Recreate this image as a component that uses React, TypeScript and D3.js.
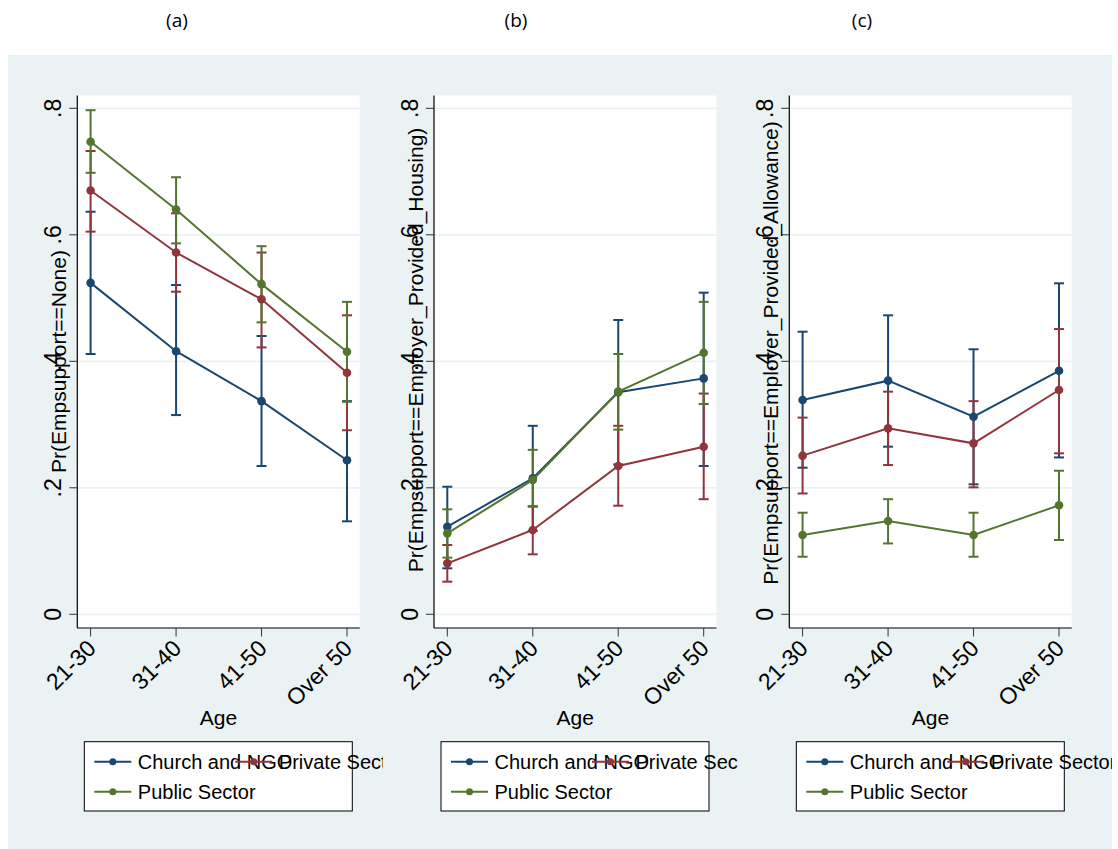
import React from "react";
import * as d3 from "d3";

const ageGroups = ["21-30", "31-40", "41-50", "Over 50"];
const sectors = ["Church and NGO", "Private Sector", "Public Sector"];
const yTicks = [0, 0.2, 0.4, 0.6, 0.8];
const yTickLabels = ["0", ".2", ".4", ".6", ".8"];
const panelTitles = ["(a)", "(b)", "(c)"];
const yTitles = [
  "Pr(Empsupport==None)",
  "Pr(Empsupport==Employer_Provided_Housing)",
  "Pr(Empsupport==Employer_Provided_Allowance)",
];

// rows: Church and NGO, Private Sector, Public Sector
const noneEst = [
  [0.524, 0.416, 0.337, 0.2435],
  [0.67, 0.572, 0.498, 0.382],
  [0.747, 0.64, 0.522, 0.415],
];
const noneLo = [
  [0.4115, 0.315, 0.2345, 0.147],
  [0.605, 0.51, 0.422, 0.291],
  [0.698, 0.5865, 0.4616, 0.336],
];
const noneHi = [
  [0.6365, 0.5206, 0.44, 0.337],
  [0.7325, 0.634, 0.572, 0.4727],
  [0.797, 0.691, 0.582, 0.494],
];

const housingEst = [
  [0.1385, 0.215, 0.351, 0.373],
  [0.0806, 0.1333, 0.2345, 0.265],
  [0.128, 0.2123, 0.352, 0.4136],
];
const housingLo = [
  [0.0727, 0.132, 0.237, 0.2345],
  [0.0516, 0.0948, 0.1717, 0.182],
  [0.0896, 0.17, 0.292, 0.3325],
];
const housingHi = [
  [0.2017, 0.298, 0.4653, 0.5085],
  [0.1096, 0.171, 0.298, 0.349],
  [0.166, 0.26, 0.4115, 0.494],
];

const allowanceEst = [
  [0.3388, 0.3694, 0.3124, 0.385],
  [0.2508, 0.294, 0.2703, 0.3546],
  [0.1254, 0.1475, 0.1254, 0.1723],
];
const allowanceLo = [
  [0.2318, 0.265, 0.2055, 0.248],
  [0.191, 0.236, 0.2007, 0.2545],
  [0.091, 0.112, 0.091, 0.1175],
];
const allowanceHi = [
  [0.4468, 0.4727, 0.419, 0.5233],
  [0.311, 0.352, 0.337, 0.451],
  [0.1606, 0.182, 0.1606, 0.227],
];

const COLORS = ["#1a476f", "#90353b", "#55752f"];
const BG = "#eaf2f3";
const FONT = "'Liberation Sans', Arial, sans-serif";

const panels = [
  { est: noneEst, lo: noneLo, hi: noneHi },
  { est: housingEst, lo: housingLo, hi: housingHi },
  { est: allowanceEst, lo: allowanceLo, hi: allowanceHi },
];

const panelLeft = [77.3, 434, 789.3];
const panelClipRight = [383, 738, 1112];
const titleX = [177, 516, 862];
const yTitleCenter = [361.5, 350, 353];
const plotW = 282.5;
const plotTop = 95.5;
const axisY = 628;

const yScale = d3.scaleLinear().domain([0, 0.8]).range([614.3, 108.3]);

function Panel({ idx }: { idx: number }) {
  const left = panelLeft[idx];
  const right = left + plotW;
  const x = d3.scalePoint<string>().domain(ageGroups).range([left + 13.3, left + 269.7]);
  const p = panels[idx];
  const line = d3
    .line<number>()
    .x((_, i) => x(ageGroups[i]) as number)
    .y((d) => yScale(d));
  const capW = 5;
  const legLeft = left + 7;
  const legRight = left + 275;
  const legTop = 741.7;
  const legBottom = 811;
  const row1 = 761.7;
  const row2 = 791.7;
  const col1 = legLeft + 10;
  const col2 = col1 + 141;
  const legendItems = [
    { s: 0, x: col1, y: row1 },
    { s: 1, x: col2, y: row1 },
    { s: 2, x: col1, y: row2 },
  ];
  const clipId = `clip-${idx}`;
  return (
    <g>
      <defs>
        <clipPath id={clipId}>
          <rect x={0} y={0} width={panelClipRight[idx]} height={849} />
        </clipPath>
      </defs>
      <text x={titleX[idx]} y={27} textAnchor="middle" fontFamily="'Open Sans', 'Noto Sans', sans-serif" fontSize={19} fill="#000">
        {panelTitles[idx]}
      </text>
      <rect x={left} y={plotTop} width={plotW} height={axisY - plotTop} fill="#fff" />
      {yTicks.map((t) => (
        <line key={t} x1={left} x2={right} y1={yScale(t)} y2={yScale(t)} stroke={BG} strokeWidth={1.8} />
      ))}
      {/* axes */}
      <line x1={left} x2={left} y1={plotTop} y2={axisY} stroke="#000" strokeWidth={1.2} />
      <line x1={left} x2={right} y1={axisY} y2={axisY} stroke="#000" strokeWidth={1.2} />
      {yTicks.map((t, i) => (
        <g key={"yt" + t}>
          <line x1={left - 8} x2={left} y1={yScale(t)} y2={yScale(t)} stroke="#333" strokeWidth={1} />
          <text
            transform={`translate(${left - 16},${yScale(t)}) rotate(-90)`}
            textAnchor="middle"
            fontFamily={FONT}
            fontSize={23}
            fill="#000"
          >
            {yTickLabels[i]}
          </text>
        </g>
      ))}
      {ageGroups.map((a) => (
        <g key={"xt" + a}>
          <line x1={x(a)} x2={x(a)} y1={axisY} y2={axisY + 8.5} stroke="#333" strokeWidth={1} />
          <text
            transform={`translate(${(x(a) as number) + 1},${axisY + 16}) rotate(-45)`}
            textAnchor="end"
            dominantBaseline="central"
            fontFamily={FONT}
            fontSize={23}
            fill="#000"
          >
            {a}
          </text>
        </g>
      ))}
      <text
        transform={`translate(${left - 11},${yTitleCenter[idx]}) rotate(-90)`}
        textAnchor="middle"
        fontFamily={FONT}
        fontSize={21}
        fill="#000"
      >
        {yTitles[idx]}
      </text>
      <text x={(left + right) / 2} y={725} textAnchor="middle" fontFamily={FONT} fontSize={21} fill="#000">
        Age
      </text>
      {/* confidence intervals */}
      {sectors.map((s, si) => (
        <g key={"ci" + s} stroke={COLORS[si]} strokeWidth={2}>
          {ageGroups.map((a, ai) => {
            const cx = x(a) as number;
            const y1 = yScale(p.lo[si][ai]);
            const y2 = yScale(p.hi[si][ai]);
            return (
              <g key={a}>
                <line x1={cx} x2={cx} y1={y1} y2={y2} />
                <line x1={cx - capW} x2={cx + capW} y1={y1} y2={y1} />
                <line x1={cx - capW} x2={cx + capW} y1={y2} y2={y2} />
              </g>
            );
          })}
        </g>
      ))}
      {/* lines and markers */}
      {sectors.map((s, si) => (
        <g key={"ln" + s}>
          <path d={line(p.est[si]) as string} fill="none" stroke={COLORS[si]} strokeWidth={2} />
          {p.est[si].map((v, ai) => (
            <circle key={ai} cx={x(ageGroups[ai])} cy={yScale(v)} r={4.3} fill={COLORS[si]} />
          ))}
        </g>
      ))}
      {/* legend */}
      <rect x={legLeft} y={legTop} width={legRight - legLeft} height={legBottom - legTop} fill="#fff" stroke="#000" strokeWidth={1} />
      <g clipPath={`url(#${clipId})`}>
        {legendItems.map((it) => (
          <g key={"lg" + it.s}>
            <line x1={it.x} x2={it.x + 37} y1={it.y} y2={it.y} stroke={COLORS[it.s]} strokeWidth={2} />
            <circle cx={it.x + 18.5} cy={it.y} r={3.5} fill={COLORS[it.s]} />
            <text x={it.x + 43.5} y={it.y + 7} fontFamily={FONT} fontSize={20} fill="#000">
              {sectors[it.s]}
            </text>
          </g>
        ))}
      </g>
    </g>
  );
}

export default function App() {
  return (
    <svg
      width={1118}
      height={849}
      style={{ position: "absolute", left: 0, top: 0, background: "#fff" }}
    >
      <rect x={0} y={0} width={1118} height={849} fill="#fff" />
      <rect x={8} y={55} width={1104} height={794} fill={BG} />
      {[0, 1, 2].map((i) => (
        <Panel key={i} idx={i} />
      ))}
    </svg>
  );
}
